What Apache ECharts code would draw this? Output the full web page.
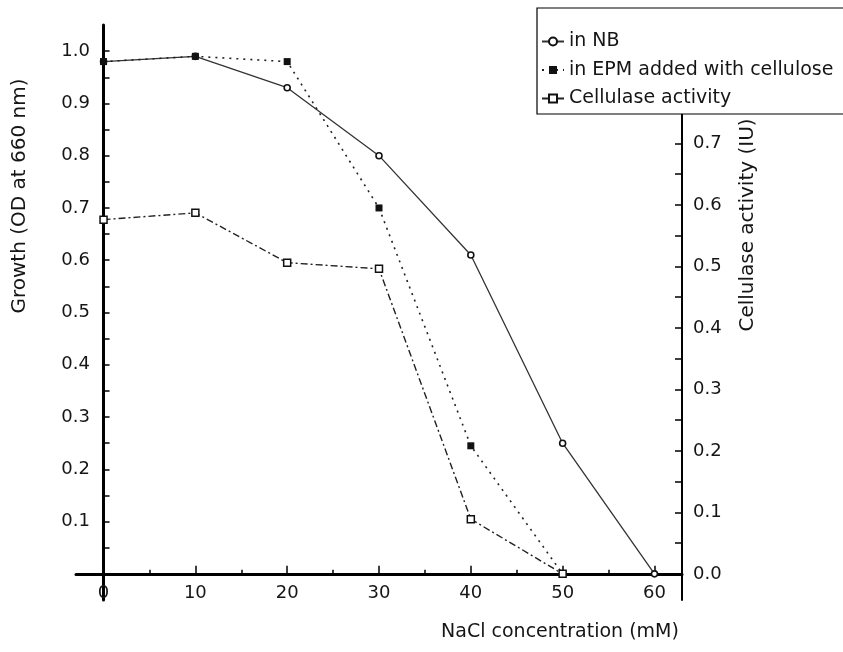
<!DOCTYPE html>
<html><head><meta charset="utf-8">
<script src="https://cdn.jsdelivr.net/npm/echarts@6/dist/echarts.min.js"></script>
<style>html,body{margin:0;padding:0;background:#fff}#c{width:843px;height:652px}</style>
</head><body><div id="c"></div>
<script>
// ---- data ----
const naclNB = [0, 10, 20, 30, 40, 50, 60];
const growthNB = [0.98, 0.99, 0.93, 0.80, 0.61, 0.25, 0.0];
const naclEPM = [0, 10, 20, 30, 40, 50];
const growthEPM = [0.98, 0.99, 0.98, 0.70, 0.245, 0.0];
const naclCell = [0, 10, 20, 30, 40, 50];
const cellulaseActivity = [0.576, 0.587, 0.506, 0.496, 0.089, 0.0];

const xTickLabels = [0, 10, 20, 30, 40, 50, 60];
const xMinorTicks = [5, 15, 25, 35, 45, 55];
const leftTickLabels = [0.1, 0.2, 0.3, 0.4, 0.5, 0.6, 0.7, 0.8, 0.9, 1.0];
const leftTicks = [0.05, 0.1, 0.15, 0.2, 0.25, 0.3, 0.35, 0.4, 0.45, 0.5, 0.55, 0.6, 0.65, 0.7, 0.75, 0.8, 0.85, 0.9, 0.95, 1.0];
const rightTickLabels = [0.0, 0.1, 0.2, 0.3, 0.4, 0.5, 0.6, 0.7];
const rightTicks = [0.05, 0.1, 0.15, 0.2, 0.25, 0.3, 0.35, 0.4, 0.45, 0.5, 0.55, 0.6, 0.65, 0.7, 0.75, 0.8, 0.85];

const seriesNames = ['in NB', 'in EPM added with cellulose', 'Cellulase activity'];
const xName = 'NaCl concentration (mM)';
const yLeftName = 'Growth (OD at 660 nm)';
const yRightName = 'Cellulase activity (IU)';

// ---- chart ----
const FONT = '"DejaVu Sans", "Liberation Sans", sans-serif';
const TXT = '#151515';
const pairs = (xs, ys) => xs.map((x, i) => [x, ys[i]]);
const chart = echarts.init(document.getElementById('c'), null, {renderer: 'canvas'});

chart.setOption({
  animation: false,
  backgroundColor: '#fff',
  textStyle: {fontFamily: FONT, color: TXT},
  grid: {left: 76, right: 161, top: 25, bottom: 52, containLabel: false},
  legend: {
    orient: 'vertical', left: 537, top: 8,
    padding: [24, 40, 6, 4], itemGap: 9.5, itemWidth: 22, itemHeight: 10,
    backgroundColor: '#fff', borderColor: '#000', borderWidth: 1.2,
    textStyle: {fontSize: 19, color: TXT, fontFamily: FONT},
    data: seriesNames
  },
  xAxis: [{
    type: 'value', min: -3, max: 63, position: 'bottom',
    axisLine: {onZero: true, lineStyle: {color: '#000', width: 3}},
    axisTick: {inside: true, length: 8, customValues: xTickLabels, lineStyle: {color: '#000', width: 1.5}},
    axisLabel: {customValues: xTickLabels, margin: -16, fontSize: 18, color: TXT, fontFamily: FONT},
    splitLine: {show: false}
  }, {
    type: 'value', min: -3, max: 63, position: 'bottom',
    axisLine: {show: false, onZero: true},
    axisTick: {inside: true, length: 4, customValues: xMinorTicks, lineStyle: {color: '#000', width: 1.5}},
    axisLabel: {show: false},
    splitLine: {show: false}
  }],
  yAxis: [{
    type: 'value', min: -0.05, max: 1.05, position: 'left',
    axisLine: {onZero: true, lineStyle: {color: '#000', width: 3}},
    axisTick: {inside: true, length: 6, customValues: leftTicks, lineStyle: {color: '#000', width: 1.5}},
    axisLabel: {customValues: leftTickLabels, formatter: v => v.toFixed(1), margin: -14, fontSize: 18, color: TXT, fontFamily: FONT},
    splitLine: {show: false}
  }, {
    type: 'value', min: -0.0425, max: 0.8925, position: 'right',
    axisLine: {onZero: false, lineStyle: {color: '#000', width: 2}},
    axisTick: {inside: true, length: 7, customValues: rightTicks, lineStyle: {color: '#000', width: 1.5}},
    axisLabel: {customValues: rightTickLabels, formatter: v => v.toFixed(1), margin: 11, fontSize: 18, color: TXT, fontFamily: FONT},
    splitLine: {show: false}
  }],
  series: [{
    name: seriesNames[0], type: 'line', xAxisIndex: 0, yAxisIndex: 0,
    data: pairs(naclNB, growthNB),
    symbol: 'circle', symbolSize: 6,
    lineStyle: {color: '#333', width: 1.3},
    itemStyle: {color: '#fff', borderColor: '#111', borderWidth: 1.6}
  }, {
    name: seriesNames[1], type: 'line', xAxisIndex: 0, yAxisIndex: 0,
    data: pairs(naclEPM, growthEPM),
    symbol: 'rect', symbolSize: 7,
    lineStyle: {color: '#222', width: 1.6, type: [2, 5]},
    itemStyle: {color: '#111', borderColor: '#111', borderWidth: 0}
  }, {
    name: seriesNames[2], type: 'line', xAxisIndex: 0, yAxisIndex: 1,
    data: pairs(naclCell, cellulaseActivity),
    symbol: 'rect', symbolSize: 7,
    lineStyle: {color: '#222', width: 1.4, type: [7, 3, 2, 3]},
    itemStyle: {color: '#fff', borderColor: '#111', borderWidth: 1.5}
  }],
  graphic: [{
    type: 'text', x: 20, y: 196, rotation: Math.PI / 2,
    style: {text: yLeftName, fontSize: 20, fontFamily: FONT, fill: TXT, align: 'center', verticalAlign: 'middle'}
  }, {
    type: 'text', x: 748, y: 225, rotation: Math.PI / 2,
    style: {text: yRightName, fontSize: 20, fontFamily: FONT, fill: TXT, align: 'center', verticalAlign: 'middle'}
  }, {
    type: 'text', x: 560, y: 632,
    style: {text: xName, fontSize: 19, fontFamily: FONT, fill: TXT, align: 'center', verticalAlign: 'middle'}
  }]
});
</script></body></html>
